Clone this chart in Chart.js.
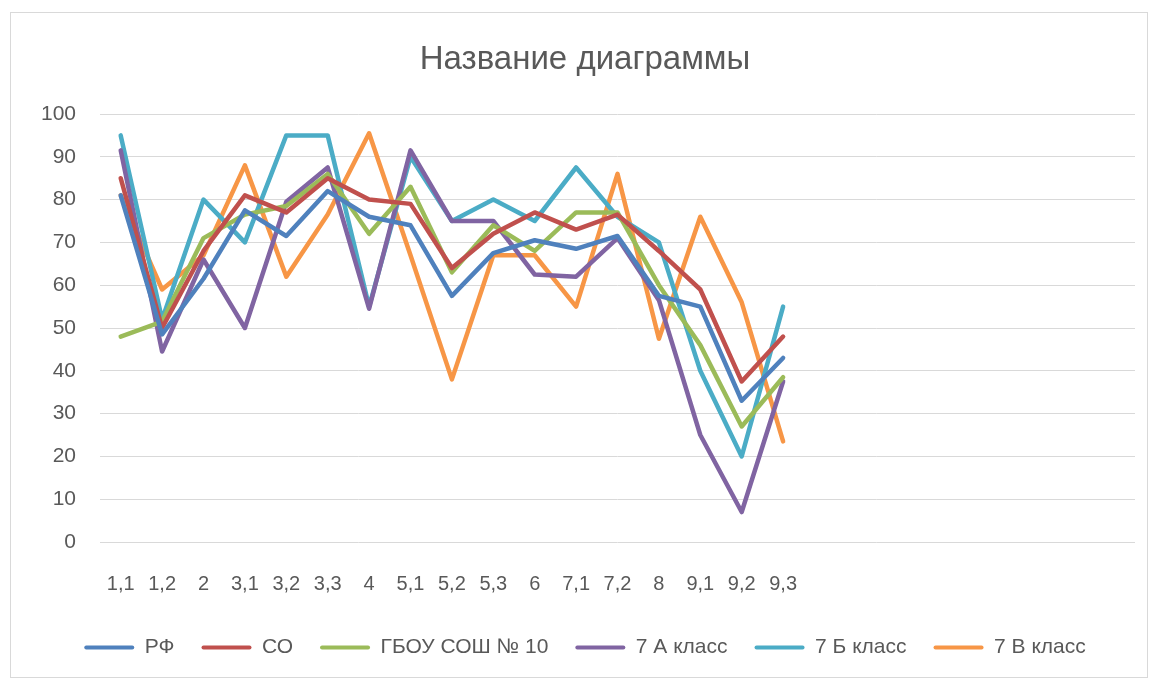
<!DOCTYPE html>
<html>
<head>
<meta charset="utf-8">
<script src="https://cdn.jsdelivr.net/npm/chart.js@4/dist/chart.umd.min.js"></script>
<style>
  html, body { margin: 0; padding: 0; background: #fff; }
  #frame { position: absolute; left: 10px; top: 12px; width: 1136px; height: 664px; border: 1px solid #d9d9d9; }
  #wrap { position: absolute; left: 0; top: 0; width: 1150px; height: 680px; }
</style>
</head>
<body>
<div id="frame"></div>
<div id="wrap"><canvas id="c" width="1150" height="680"></canvas></div>
<script>
const categories = ['1,1','1,2','2','3,1','3,2','3,3','4','5,1','5,2','5,3','6','7,1','7,2','8','9,1','9,2','9,3','','','','','','','',''];
const yTicks = [0,10,20,30,40,50,60,70,80,90,100];
const seriesNames = ['РФ','СО','ГБОУ СОШ № 10','7 А класс','7 Б класс','7 В класс'];
const rf     = [81, 48.5, 61.5, 77.5, 71.5, 82, 76, 74, 57.5, 67.5, 70.5, 68.5, 71.5, 57.5, 55, 33, 43];
const so     = [85, 50, 68, 81, 77, 85, 80, 79, 64, 72, 77, 73, 76.5, 68, 59, 37.5, 48];
const school = [48, 51.5, 71, 76.5, 78.5, 86, 72, 83, 63, 74, 68, 77, 77, 60, 46, 27, 38.5];
const cls7a  = [91.5, 44.5, 66, 50, 79.5, 87.5, 54.5, 91.5, 75, 75, 62.5, 62, 71, 56.5, 25, 7, 37.5];
const cls7b  = [95, 52, 80, 70, 95, 95, 55, 90, 75, 80, 75, 87.5, 76, 70, 40, 20, 55];
const cls7v  = [81, 59, 67, 88, 62, 76.5, 95.5, 67, 38, 67, 67, 55, 86, 47.5, 76, 56, 23.5];
const colors = ['#4F81BD','#C0504D','#9BBB59','#8064A2','#4BACC6','#F79646'];
const allSeries = [rf, so, school, cls7a, cls7b, cls7v];

const FONT = '"Liberation Sans", Arial, sans-serif';
Chart.defaults.font.family = FONT;
Chart.defaults.color = '#595959';

new Chart(document.getElementById('c'), {
  type: 'line',
  data: {
    labels: categories,
    datasets: allSeries.map((d, i) => ({
      label: seriesNames[i],
      data: d,
      borderColor: colors[i],
      backgroundColor: colors[i],
      borderWidth: 4.5,
      pointRadius: 0,
      tension: 0,
      borderJoinStyle: 'round',
      borderCapStyle: 'round'
    }))
  },
  options: {
    responsive: false,
    animation: false,
    layout: { padding: { left: 35, right: 15, top: 0, bottom: 12 } },
    plugins: {
      title: {
        display: true,
        text: 'Название диаграммы',
        color: '#595959',
        font: { size: 33, weight: 'normal', family: FONT },
        padding: { top: 40, bottom: 34.4 }
      },
      legend: {
        position: 'bottom',
        labels: {
          boxWidth: 50,
          boxHeight: 4,
          padding: 27,
          useBorderRadius: true,
          borderRadius: 2,
          color: '#595959',
          font: { size: 21, family: FONT },
          generateLabels: chart => Chart.defaults.plugins.legend.labels.generateLabels(chart).map(l => Object.assign(l, { lineWidth: 0 }))
        }
      },
      tooltip: { enabled: false }
    },
    scales: {
      x: {
        offset: true,
        grid: { display: false, drawTicks: false },
        border: { display: false },
        ticks: { autoSkip: false, maxRotation: 0, padding: 30, color: '#595959', font: { size: 20, family: FONT } },
        afterFit: s => { s.height = 68; }
      },
      y: {
        min: 0, max: 100,
        afterBuildTicks: s => { s.ticks = yTicks.map(v => ({ value: v })); },
        grid: { color: '#d9d9d9', lineWidth: 1, drawTicks: false },
        border: { display: false },
        ticks: { padding: 24, color: '#595959', font: { size: 21, family: FONT } },
        afterFit: s => { s.width = 65; }
      }
    }
  }
});
</script>
</body>
</html>
